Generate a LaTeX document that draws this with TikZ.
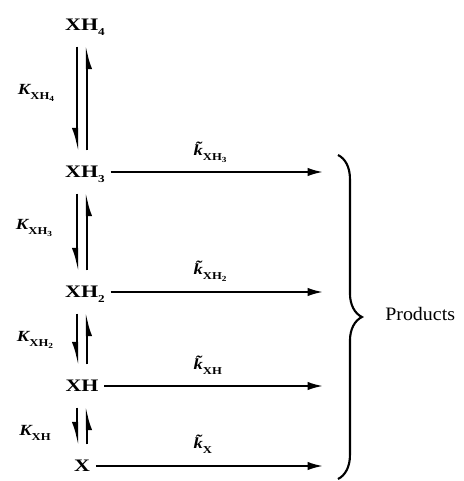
\documentclass[tikz,border=0pt]{standalone}
\usepackage{fontspec}
\setmainfont{Liberation Serif}
\newfontfamily\specfont[FakeStretch=1.25]{Liberation Serif}
\newfontfamily\labfont[FakeStretch=1.2]{Liberation Serif}
\newfontfamily\prodfont[FakeStretch=1.05]{Liberation Serif}
\usetikzlibrary{arrows.meta,decorations.pathreplacing}

\newcommand{\spc}[2]{#1\raisebox{-0.55ex}{\fontsize{7.5}{8}\selectfont #2}}
\newcommand{\dsub}[1]{\raisebox{-0.4ex}{\fontsize{5.5}{6}\selectfont #1}}
\newcommand{\sbs}[1]{\raisebox{-0.65ex}{\fontsize{7.5}{8}\labfont\bfseries #1}}
\newcommand{\eqK}[1]{{\labfont\bfseries\itshape K}\sbs{#1}}
\newcommand{\rateK}[1]{{\labfont\bfseries\itshape \~{k}}\sbs{#1}}

\begin{document}
\begin{tikzpicture}[
  x=0.025cm,y=-0.025cm,
  species/.style={font=\fontsize{12.5}{14}\specfont\bfseries,text height=8.2pt,text depth=0pt,
                  inner xsep=4pt,inner ysep=0pt},
  eqlab/.style={font=\fontsize{11}{13}\labfont,inner sep=1pt},
  ratelab/.style={font=\fontsize{11}{13}\labfont,inner sep=1pt,anchor=west},
  eqarr/.style={line width=1.6pt,-{Latex[right,length=13pt,width=7.5pt]},
                shorten <=11pt,shorten >=10pt},
  ratearr/.style={line width=1.4pt,-{Latex[length=11pt,width=6pt]}}
]
\useasboundingbox (0,0) rectangle (463,481);
% ---- species ----
\node[species] (xh4) at (85,25)  {\spc{XH}{4}};
\node[species] (xh3) at (85,172) {\spc{XH}{3}};
\node[species] (xh2) at (85,292) {\spc{XH}{2}};
\node[species] (xh1) at (82,386) {XH};
\node[species] (xh0) at (82,466) {X};
% ---- equilibria ----
\coordinate (dn) at (77,0);
\coordinate (up) at (87,0);
\draw[eqarr] (xh4.south -| dn) -- (xh3.north -| dn);
\draw[eqarr] (xh3.north -| up) -- (xh4.south -| up);
\draw[eqarr] (xh3.south -| dn) -- (xh2.north -| dn);
\draw[eqarr] (xh2.north -| up) -- (xh3.south -| up);
\draw[eqarr] (xh2.south -| dn) -- (xh1.north -| dn);
\draw[eqarr] (xh1.north -| up) -- (xh2.south -| up);
\draw[eqarr] (xh1.south -| dn) -- (xh0.north -| dn);
\draw[eqarr] (xh0.north -| up) -- (xh1.south -| up);
\node[eqlab] (k4) at (36,93)  {\eqK{XH\dsub{4}}};
\node[eqlab] (k3) at (34,228) {\eqK{XH\dsub{3}}};
\node[eqlab] (k2) at (35,340) {\eqK{XH\dsub{2}}};
\node[eqlab] (k1) at (35,433) {\eqK{XH}};
% ---- decay to products ----
\coordinate (rim) at (323,0);
\draw[ratearr] (xh3.east) -- (xh3 -| rim);
\draw[ratearr] (xh2.east) -- (xh2 -| rim);
\draw[ratearr] (xh1.east) -- (xh1 -| rim);
\draw[ratearr] (xh0.east) -- (xh0 -| rim);
\node[ratelab] (r3) at (192,152) {\rateK{XH\dsub{3}}};
\node[ratelab] (r2) at (192,271) {\rateK{XH\dsub{2}}};
\node[ratelab] (r1) at (192,365) {\rateK{XH}};
\node[ratelab] (r0) at (192,444) {\rateK{X}};
% ---- brace ----
\coordinate (btop) at (338,155);
\coordinate (bbot) at (338,479);
\draw[line width=1.5pt,decorate,decoration={brace,amplitude=17pt}] (btop) -- (bbot);
\node[font=\fontsize{13.5}{15}\prodfont,anchor=west,text height=8.9pt,text depth=0pt,inner sep=0pt]
  (prod) at (385,314) {Products};
\end{tikzpicture}
\end{document}
